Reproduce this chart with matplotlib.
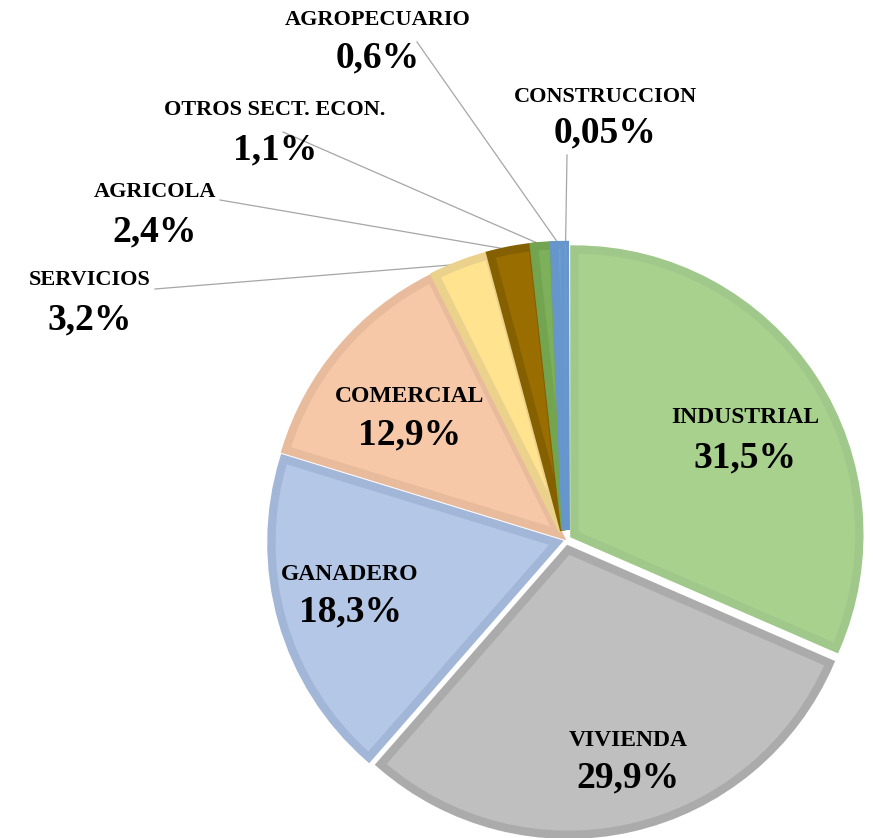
import numpy as np
import matplotlib
matplotlib.use("Agg")
import matplotlib.pyplot as plt

# data (clockwise from 12 o'clock)
sectors = ["INDUSTRIAL", "VIVIENDA", "GANADERO", "COMERCIAL", "SERVICIOS",
           "AGRICOLA", "OTROS SECT. ECON.", "AGROPECUARIO", "CONSTRUCCION"]
shares = [31.5, 29.9, 18.3, 12.9, 3.2, 2.4, 1.1, 0.6, 0.05]
pct_labels = ["31,5%", "29,9%", "18,3%", "12,9%", "3,2%", "2,4%", "1,1%", "0,6%", "0,05%"]

fills = ["#A9D18E", "#BFBFBF", "#B4C7E7", "#F6C8A8", "#FFE38F",
         "#9A6D00", "#7DB05A", "#6E9FD3", "#6E9FD3"]
edges = ["#9FC88A", "#ABABAB", "#A2B6D8", "#E8BB9C", "#EBD28C",
         "#846000", "#73A550", "#6696CB", "#6696CB"]

W, H = 873, 838
fig = plt.figure(figsize=(W / 100, H / 100), dpi=100)
ax = fig.add_axes([0, 0, 1, 1])


def py(y):
    # pixel row (from top) -> data y
    return H - y


cx, cy, R = 566, 540, 285
# explode is in data units (= pixels here)
wedges, _ = ax.pie(shares, colors=fills, startangle=90, counterclock=False,
                   radius=R, center=(cx, py(cy)), explode=[10] * len(shares),
                   wedgeprops=dict(linewidth=6))
# border drawn inside each slice, like the original
for w, ec in zip(wedges, edges):
    w.set_edgecolor(ec)
    w.set_clip_path(w)
wedges[-1].set_linewidth(0)

ax.set_xlim(0, W)
ax.set_ylim(0, H)
ax.set_aspect("equal")
ax.axis("off")

serif = "Liberation Serif"
name_inside = dict(fontsize=17, fontweight="bold", family=serif, ha="center", va="center")
pct_style = dict(fontsize=27, fontweight="bold", family=serif, ha="center", va="center")
name_outside = dict(fontsize=16, fontweight="bold", family=serif, ha="center", va="center")

# labels inside the big slices: name position, pct position (pixels)
inside_pos = {
    "INDUSTRIAL": ((745, 418), (745, 458)),
    "VIVIENDA": ((628, 740), (628, 778)),
    "GANADERO": ((350, 575), (350, 612)),
    "COMERCIAL": ((410, 397), (410, 435)),
}
# labels outside with leader lines: name pos, pct pos, leader start
outside_pos = {
    "SERVICIOS": ((90, 280), (90, 320), (155, 289)),
    "AGRICOLA": ((155, 192), (155, 232), (220, 200)),
    "OTROS SECT. ECON.": ((275, 110), (275, 150), (283, 132)),
    "AGROPECUARIO": ((378, 20), (378, 58), (417, 42)),
    "CONSTRUCCION": ((605, 97), (605, 133), (567, 155)),
}

for i, name in enumerate(sectors):
    if name in inside_pos:
        (nx, ny), (qx, qy) = inside_pos[name]
        ax.text(nx, py(ny), name, **name_inside)
        ax.text(qx, py(qy), pct_labels[i], **pct_style)
    else:
        (nx, ny), (qx, qy), (lx, ly) = outside_pos[name]
        ax.text(nx, py(ny), name, **name_outside)
        ax.text(qx, py(qy), pct_labels[i], **pct_style)
        w = wedges[i]
        mid = np.deg2rad((w.theta1 + w.theta2) / 2)
        ex = w.center[0] + w.r * np.cos(mid)
        ey = w.center[1] + w.r * np.sin(mid)
        ax.plot([lx, ex], [py(ly), ey], color="#A6A6A6", lw=0.9, zorder=0)

fig.savefig("out.png", dpi=100)
